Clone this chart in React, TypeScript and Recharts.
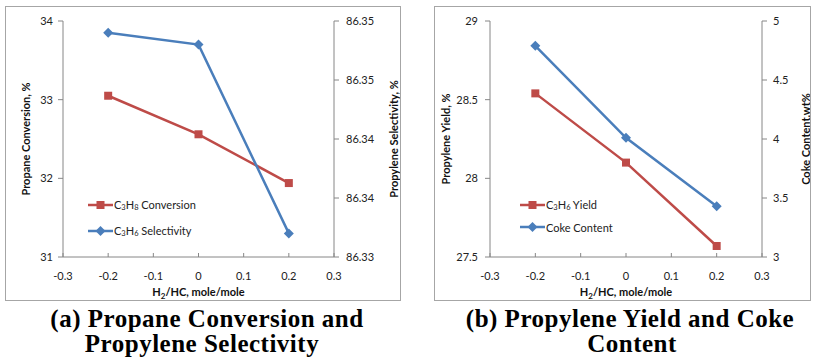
import React from 'react';
import { LineChart, Line, XAxis, YAxis, Legend } from 'recharts';

// H2/HC ratio, mole/mole
const h2hc = [-0.2, 0, 0.2];

// panel (a)
const propaneConversion = [33.05, 32.56, 31.94];
const propyleneSelectivity = [86.349, 86.348, 86.332];

// panel (b)
const propyleneYield = [28.54, 28.1, 27.57];
const cokeContent = [4.79, 4.01, 3.43];

const xTicks = [-0.3, -0.2, -0.1, 0, 0.1, 0.2, 0.3];
const conversionTicks = [31, 32, 33, 34];
const selectivityTicks = [86.33, 86.335, 86.34, 86.345, 86.35];
const selectivityTickLabels = ['86.33', '86.34', '86.34', '86.35', '86.35'];
const yieldTicks = [27.5, 28, 28.5, 29];
const cokeTicks = [3, 3.5, 4, 4.5, 5];

const RED = '#BE4B48';
const BLUE = '#4A7EBB';
const AXIS = '#868686';
const FONT = 'Lato, "Open Sans", sans-serif';
const CAPTION_FONT = '"Liberation Serif", "Times New Roman", serif';

const dataA = h2hc.map((x, i) => ({ x, conv: propaneConversion[i], sel: propyleneSelectivity[i] }));
const dataB = h2hc.map((x, i) => ({ x, yld: propyleneYield[i], coke: cokeContent[i] }));

const Square = (props: any) => {
    const { cx, cy } = props;
    if (cx == null || cy == null) return <g />;
    return <rect x={cx - 4} y={cy - 4} width={8} height={8} fill={RED} />;
};

const Diamond = (props: any) => {
    const { cx, cy } = props;
    if (cx == null || cy == null) return <g />;
    return <path d={`M${cx},${cy - 5}L${cx + 5},${cy}L${cx},${cy + 5}L${cx - 5},${cy}Z`} fill={BLUE} />;
};

const tickStyle = { fontFamily: FONT, fontSize: 11, fill: '#222' };

// rotated axis title, dx measured from the axis box left edge
const axisTitle = (text: string, dx: number) => (props: any) => {
    const vb = props.viewBox || {};
    const x = vb.x + dx;
    const y = vb.y + vb.height / 2;
    return (
        <text x={x} y={y} transform={`rotate(-90, ${x}, ${y})`} textAnchor="middle" dominantBaseline="central"
            style={{ fontFamily: FONT, fontSize: 11, fontWeight: 700, fill: '#111' }}>
            {text}
        </text>
    );
};

const xTitle = (props: any) => {
    const vb = props.viewBox || {};
    return (
        <text x={vb.x + vb.width / 2} y={vb.y + 39} textAnchor="middle"
            style={{ fontFamily: FONT, fontSize: 11, fontWeight: 700, fill: '#111' }}>
            <tspan>H</tspan>
            <tspan fontSize={8} dy={3}>2</tspan>
            <tspan dy={-3}>/HC, mole/mole</tspan>
        </text>
    );
};

interface LegendItem { color: string; marker: 'square' | 'diamond'; label: React.ReactNode; }

const legendContent = (items: LegendItem[], rowHeight: number) => () => (
    <div style={{ fontFamily: FONT, fontSize: 11, color: '#222' }}>
        {items.map((it, i) => (
            <div key={i} style={{ display: 'flex', alignItems: 'center', height: rowHeight }}>
                <svg width={25} height={12}>
                    <line x1={0} y1={6} x2={25} y2={6} stroke={it.color} strokeWidth={2.5} />
                    {it.marker === 'square'
                        ? <rect x={8.5} y={2} width={8} height={8} fill={it.color} />
                        : <path d="M12.5,1L17.5,6L12.5,11L7.5,6Z" fill={it.color} />}
                </svg>
                <span style={{ marginLeft: 1 }}>{it.label}</span>
            </div>
        ))}
    </div>
);

const sub = (d: string) => <sub style={{ fontSize: 7.5, verticalAlign: '-1px' }}>{d}</sub>;

const panelStyle = (left: number, width: number): React.CSSProperties => ({
    position: 'absolute', left, top: 6, width, height: 295,
    border: '1px solid #a6a6a6', boxSizing: 'border-box', background: '#fff',
});

const captionStyle = (center: number, top: number): React.CSSProperties => ({
    position: 'absolute', left: center - 200, width: 400, top, height: 25, textAlign: 'center',
    fontFamily: CAPTION_FONT, fontWeight: 700, fontSize: 25, lineHeight: '25px', letterSpacing: 0.5,
    color: '#000', whiteSpace: 'nowrap',
});

const App: React.FC = () => {
    return (
        <div style={{ position: 'absolute', left: 0, top: 0, width: 817, height: 360, background: '#fff' }}>
            {/* (a) conversion + selectivity */}
            <div style={panelStyle(5, 396)}>
                <LineChart width={394} height={293} data={dataA} margin={{ top: 14, right: 0, left: 0, bottom: 0 }}>
                    <XAxis dataKey="x" type="number" domain={[-0.3, 0.3]} ticks={xTicks} height={43}
                        stroke={AXIS} tickSize={-4} tickMargin={19} tick={tickStyle} tickFormatter={(v) => String(v)}
                        label={xTitle} />
                    <YAxis yAxisId="left" orientation="left" width={57} domain={[31, 34]} ticks={conversionTicks}
                        stroke={AXIS} tickSize={5} tickMargin={5} tick={tickStyle}
                        label={axisTitle('Propane Conversion, %', 19)} />
                    <YAxis yAxisId="right" orientation="right" width={66} domain={[86.33, 86.35]} ticks={selectivityTicks}
                        stroke={AXIS} tickSize={5} tickMargin={7} tick={{ ...tickStyle, textAnchor: 'start' }}
                        tickFormatter={(v, i) => selectivityTickLabels[i]}
                        label={axisTitle('Propylene Selectivity, %', 59)} />
                    <Line yAxisId="left" dataKey="conv" stroke={RED} strokeWidth={2.5} dot={Square} activeDot={false} isAnimationActive={false} />
                    <Line yAxisId="right" dataKey="sel" stroke={BLUE} strokeWidth={2.5} dot={Diamond} activeDot={false} isAnimationActive={false} />
                    <Legend layout="vertical" align="center" verticalAlign="middle"
                        wrapperStyle={{ left: 82, top: 185, width: 'auto' }}
                        content={legendContent([
                            { color: RED, marker: 'square', label: <>C{sub('3')}H{sub('8')} Conversion</> },
                            { color: BLUE, marker: 'diamond', label: <>C{sub('3')}H{sub('6')} Selectivity</> },
                        ], 26)} />
                </LineChart>
            </div>

            {/* (b) yield + coke */}
            <div style={panelStyle(434, 377)}>
                <LineChart width={375} height={293} data={dataB} margin={{ top: 14, right: 0, left: 0, bottom: 0 }}>
                    <XAxis dataKey="x" type="number" domain={[-0.3, 0.3]} ticks={xTicks} height={43}
                        stroke={AXIS} tickSize={-4} tickMargin={19} tick={tickStyle} tickFormatter={(v) => String(v)}
                        label={xTitle} />
                    <YAxis yAxisId="left" orientation="left" width={55} domain={[27.5, 29]} ticks={yieldTicks}
                        stroke={AXIS} tickSize={5} tickMargin={7} tick={tickStyle}
                        label={axisTitle('Propylene Yield, %', 10)} />
                    <YAxis yAxisId="right" orientation="right" width={48} domain={[3, 5]} ticks={cokeTicks}
                        stroke={AXIS} tickSize={5} tickMargin={6} tick={{ ...tickStyle, textAnchor: 'start' }}
                        label={axisTitle('Coke Content,wt%', 43)} />
                    <Line yAxisId="left" dataKey="yld" stroke={RED} strokeWidth={2.5} dot={Square} activeDot={false} isAnimationActive={false} />
                    <Line yAxisId="right" dataKey="coke" stroke={BLUE} strokeWidth={2.5} dot={Diamond} activeDot={false} isAnimationActive={false} />
                    <Legend layout="vertical" align="center" verticalAlign="middle"
                        wrapperStyle={{ left: 85, top: 187, width: 'auto' }}
                        content={legendContent([
                            { color: RED, marker: 'square', label: <>C{sub('3')}H{sub('6')} Yield</> },
                            { color: BLUE, marker: 'diamond', label: <>Coke Content</> },
                        ], 22)} />
                </LineChart>
            </div>

            <div style={captionStyle(207, 306)}>(a) Propane Conversion and</div>
            <div style={captionStyle(202, 331)}>Propylene Selectivity</div>
            <div style={captionStyle(630, 306)}>(b) Propylene Yield and Coke</div>
            <div style={captionStyle(632, 331)}>Content</div>
        </div>
    );
};

export default App;
